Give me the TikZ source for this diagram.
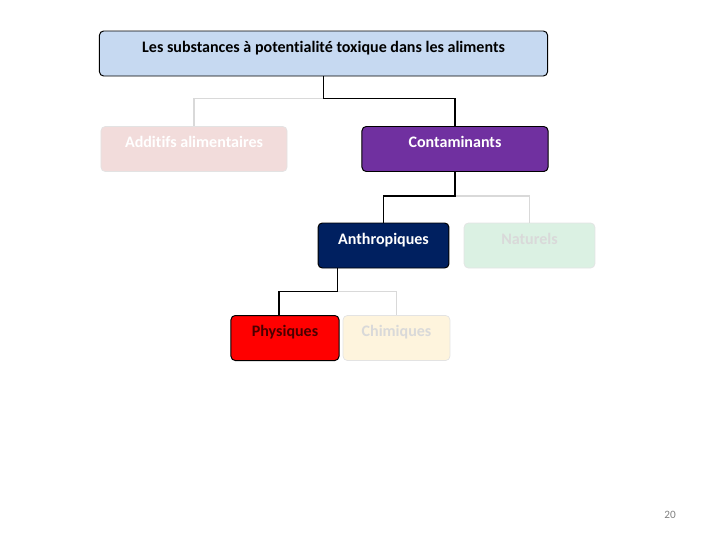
\documentclass[tikz,border=0pt]{standalone}
\usepackage{fontspec}
\setmainfont[Ligatures={NoCommon}]{Carlito}
\usepackage{tikz}
\usetikzlibrary{calc}
\definecolor{topblue}{HTML}{C6D9F1}
\definecolor{addpink}{HTML}{F2DCDB}
\definecolor{contpurple}{HTML}{7030A0}
\definecolor{anthnavy}{HTML}{002060}
\definecolor{natgreen}{HTML}{DBF1E3}
\definecolor{chimcream}{HTML}{FEF4DD}
\definecolor{fadeline}{HTML}{D9D9D9}
\definecolor{fadeborder}{HTML}{E3E3E3}
\definecolor{physdark}{HTML}{4A0000}

\begin{document}
\begin{tikzpicture}[x=0.025cm, y=-0.025cm,
		box/.style={rectangle, rounded corners=3pt, draw=black, line width=0.7pt, font=\fontsize{11.4}{13}\selectfont\bfseries, inner xsep=2pt, inner ysep=2pt, text height=13.2pt, text depth=14.8pt},
		faded/.style={draw=fadeborder, line width=0.5pt},
		link/.style={line width=0.8pt, black},
		fadelink/.style={line width=0.8pt, fadeline}]
						\useasboundingbox (0,0) rectangle (720,540);
						\node[box, fill=topblue, minimum width=11.2cm] (top) at (323.5,53.5) {Les substances à potentialité toxique dans les aliments};
						\node[box, faded, fill=addpink, text=white, minimum width=4.65cm] (addit) at (194,149) {Additifs alimentaires};
						\node[box, fill=contpurple, text=white, minimum width=4.65cm] (conta) at (455,149) {Contaminants};
						\node[box, fill=anthnavy, text=white, minimum width=3.27cm] (anthro) at (383.5,245.5) {Anthropiques};
						\node[box, faded, fill=natgreen, text=fadeline, minimum width=3.27cm] (natur) at (529.5,245.5) {Naturels};
						\node[box, fill=red, text=physdark, minimum width=2.7cm] (phys) at (285,338) {Physiques};
						\node[box, faded, fill=chimcream, text=fadeline, minimum width=2.67cm] (chim) at (396.5,338) {Chimiques};
						\node[text=gray, font=\fontsize{8}{10}\selectfont] (page) at (670,515) {20};
						\draw[fadelink] (top.south) -- ++(0,22) -| (addit.north);
						\draw[link] (top.south) -- ++(0,22) -| (conta.north);
						\draw[fadelink] (conta.south) -- ++(0,24) -| (natur.north);
						\draw[link] (conta.south) -- ++(0,24) -| (anthro.north);
						\draw[fadelink] ([xshift=-1.16cm]anthro.south) -- ++(0,23) -| (chim.north);
						\draw[link] ([xshift=-1.16cm]anthro.south) -- ++(0,23) -| ([xshift=-0.15cm]phys.north);
					\end{tikzpicture}
\end{document}
